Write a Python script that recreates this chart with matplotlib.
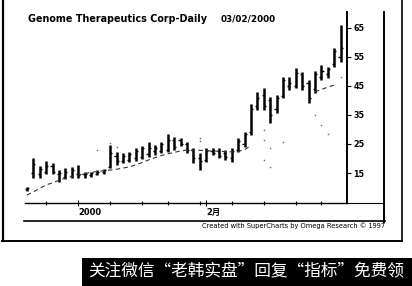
import matplotlib
matplotlib.use("Agg")
import matplotlib.pyplot as plt
from matplotlib.lines import Line2D
from matplotlib.patches import Rectangle
import numpy as np

# ---- data ----
highs = [10.2, 20.2, 17.4, 19.1, 18.4, 16.0, 16.7, 17.1, 17.8, 15.3, 15.3, 16.0, 16.4,
         24.7, 22.2, 21.9, 22.2, 23.6, 24.3, 25.7, 24.7, 25.7, 28.4, 27.4, 27.1, 25.7,
         23.6, 21.9, 23.6, 23.6, 23.6, 22.9, 23.6, 27.1, 29.1, 38.8, 42.9, 44.3, 41.2,
         41.9, 48.1, 48.1, 51.2, 49.8, 47.1, 50.2, 52.2, 51.6, 58.1, 66.0]
lows = [8.8, 13.3, 13.3, 14.7, 14.7, 11.9, 12.9, 13.3, 13.3, 13.3, 13.6, 14.3, 14.7,
        16.7, 17.8, 18.4, 18.8, 19.1, 19.8, 20.5, 21.2, 21.9, 22.2, 22.9, 24.3, 21.9,
        18.4, 16.0, 18.8, 21.2, 20.2, 19.5, 18.8, 22.2, 24.0, 28.1, 36.7, 36.7, 32.2,
        35.7, 40.9, 43.6, 44.3, 43.6, 39.1, 42.6, 47.1, 47.8, 51.6, 53.3]
opens = [9.5, 15.0, 14.5, 15.5, 17.5, 14.5, 13.5, 14.0, 14.5, 14.5, 14.2, 14.8, 15.2,
         17.0, 21.0, 19.0, 19.5, 20.0, 20.5, 21.5, 22.5, 22.5, 23.0, 26.5, 26.5, 25.0,
         23.0, 20.0, 19.5, 22.5, 22.5, 22.0, 20.0, 23.0, 25.0, 29.0, 38.0, 42.0, 40.0,
         37.0, 41.5, 45.0, 45.0, 49.0, 46.0, 44.0, 48.0, 49.0, 52.5, 55.0]
closes = [9.8, 18.0, 16.5, 17.5, 15.5, 15.0, 15.5, 16.0, 14.2, 14.8, 15.0, 15.5, 16.0,
          22.0, 19.0, 21.0, 21.5, 22.5, 23.5, 23.5, 23.5, 25.0, 26.5, 24.0, 25.0, 23.0,
          20.0, 19.0, 22.5, 22.0, 21.0, 20.5, 22.5, 26.0, 28.5, 37.0, 41.0, 38.0, 35.0,
          41.0, 47.0, 46.0, 49.5, 45.0, 41.0, 49.0, 50.0, 51.0, 57.0, 58.0]
trail = [7.4, 8.5, 9.7, 10.9, 11.6, 12.5, 13.2, 13.8, 14.3, 14.8, 15.2, 15.5, 15.8,
         16.0, 16.3, 16.7, 17.1, 17.8, 18.6, 19.5, 20.3, 21.0, 21.6, 22.1, 22.6, 22.9,
         22.9, 22.8, 22.7, 22.6, 22.5, 22.4, 22.3, 22.5, 23.0, 24.5, None, None, None,
         None, None, None, None, None, None, 43.0, 43.8, 44.6, 45.3, None]
dot_idx = [11, 13, 14, 27, 27, 37, 37, 38, 40, 45, 46, 47, 37, 38, 49]
dot_val = [22.9, 25.3, 24.0, 27.1, 26.0, 29.8, 26.4, 23.6, 25.7, 35.0, 31.5, 28.5, 19.5, 17.0, 48.1]
ytick_vals = [15, 25, 35, 45, 55, 65]
week_ticks = [3, 8, 13, 18, 22, 27, 32, 37, 42, 46]
month_ticks = [8, 28]
month_labels = ["2000", "2月"]

plt.rcParams['font.family'] = ['DejaVu Sans', 'Noto Sans CJK SC']

W, H = 412, 286
fig = plt.figure(figsize=(W / 100, H / 100), dpi=100)
fig.patch.set_facecolor("white")

def fx(px):
    return px / W

def fy(py):
    return 1 - py / H

ax = fig.add_axes([fx(25), fy(203), fx(347) - fx(25), fy(12) - fy(203)])
ax.set_facecolor("white")
n = len(highs)
x = np.arange(n)

# OHLC bars
ax.vlines(x, lows, highs, color="black", linewidth=1.8)
ax.hlines(opens, x - 0.33, x, color="black", linewidth=1.0)
ax.hlines(closes, x, x + 0.33, color="black", linewidth=1.0)

# trailing indicator line
tr = np.array([np.nan if v is None else v for v in trail], dtype=float)
ax.plot(x, tr, color="#333333", linewidth=0.8, linestyle=(0, (4, 3)))
ax.scatter(dot_idx, dot_val, s=1.5, color="#777777", linewidths=0)

ax.set_xlim(-0.3, 50.0)
ax.set_ylim(4.66, 70.5)

for s in ["top", "left"]:
    ax.spines[s].set_visible(False)
ax.spines["right"].set_linewidth(1.4)
ax.spines["bottom"].set_linewidth(1.0)
ax.yaxis.tick_right()
ax.set_yticks(ytick_vals)
ax.set_yticklabels([str(v) for v in ytick_vals], fontsize=5.8, fontweight="heavy")
ax.tick_params(axis="y", length=3, width=0.8, pad=1.5)

ax.set_xticks(week_ticks, minor=True)
ax.set_xticks(month_ticks)
ax.set_xticklabels(month_labels, fontsize=6, fontweight="heavy", ha="left")
ax.tick_params(axis="x", which="major", length=5, width=0.8, pad=1, direction="inout")
ax.tick_params(axis="x", which="minor", length=3, width=0.8, direction="inout")

# title
fig.text(fx(28), fy(19), "Genome Therapeutics Corp-Daily", fontsize=6.9,
         fontweight="heavy", va="center", ha="left")
fig.text(fx(221), fy(19), "03/02/2000", fontsize=6.4, fontweight="bold",
         va="center", ha="left")

# frame lines
fig.add_artist(Line2D([fx(347), fx(384)], [fy(203), fy(203)], color="black", lw=0.8))
fig.add_artist(Line2D([fx(384), fx(384)], [fy(12), fy(222)], color="black", lw=1.4))
fig.add_artist(Line2D([fx(24), fx(385)], [fy(221), fy(221)], color="black", lw=1.2))
fig.add_artist(Line2D([fx(2.5), fx(2.5)], [fy(0), fy(241)], color="black", lw=1.6))
fig.add_artist(Line2D([fx(402), fx(402)], [fy(0), fy(241)], color="black", lw=1.2))
fig.add_artist(Line2D([fx(2), fx(402)], [fy(241), fy(241)], color="black", lw=1.4))

fig.text(fx(385), fy(226), "Created with SuperCharts by Omega Research \u00a9 1997",
         fontsize=4.8, ha="right", va="center", family="Liberation Sans Narrow")

# banner
fig.add_artist(Rectangle((fx(82), 0), 1 - fx(82), fy(258), transform=fig.transFigure,
                         facecolor="black", edgecolor="none"))
fig.text(fx(246), fy(272), "关注微信“老韩实盘”回复“指标”免费领", color="white",
         fontsize=12, ha="center", va="center",
         family=["Noto Sans CJK SC", "DejaVu Sans"])

fig.savefig("out.png", dpi=100, facecolor="white")
